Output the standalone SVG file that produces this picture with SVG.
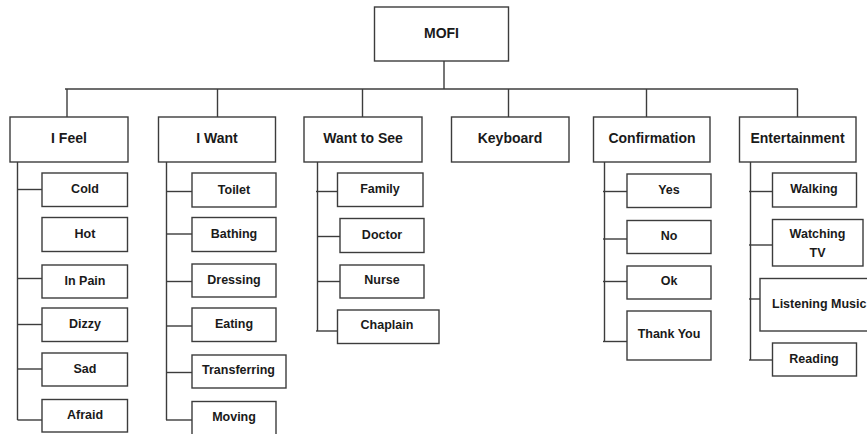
<svg xmlns="http://www.w3.org/2000/svg" width="867" height="434" viewBox="0 0 867 434">
<style>
rect{fill:#fff;stroke:#3c3c3c;stroke-width:1.4}
.c line{stroke:#3c3c3c;stroke-width:1.4}
text{font-family:"Liberation Sans",Arial,sans-serif;font-weight:bold;fill:#1a1a1a;text-anchor:middle}
.h{font-size:14px}
.s{font-size:12.5px}
</style>
<rect x="0" y="0" width="867" height="434" style="stroke:none"/>
<g class="c" id="connectors">
<line x1="444" y1="61" x2="444" y2="89"/>
<line x1="65" y1="89" x2="798" y2="89"/>
<line x1="67" y1="89" x2="67" y2="117"/>
<line x1="217.5" y1="89" x2="217.5" y2="117"/>
<line x1="362.5" y1="89" x2="362.5" y2="117"/>
<line x1="508.5" y1="89" x2="508.5" y2="117"/>
<line x1="646.5" y1="89" x2="646.5" y2="117"/>
<line x1="797.5" y1="89" x2="797.5" y2="117"/>
<line x1="17.5" y1="162" x2="17.5" y2="420"/>
<line x1="17.5" y1="189.5" x2="42" y2="189.5"/>
<line x1="17.5" y1="278.5" x2="42" y2="278.5"/>
<line x1="17.5" y1="324.5" x2="42" y2="324.5"/>
<line x1="17.5" y1="369" x2="42" y2="369"/>
<line x1="17.5" y1="420" x2="42" y2="420"/>
<line x1="166.5" y1="162" x2="166.5" y2="420"/>
<line x1="166" y1="191.5" x2="192" y2="191.5"/>
<line x1="166" y1="234" x2="192" y2="234"/>
<line x1="166" y1="281.5" x2="192" y2="281.5"/>
<line x1="166" y1="326" x2="192" y2="326"/>
<line x1="166" y1="372.5" x2="192" y2="372.5"/>
<line x1="166" y1="420" x2="192" y2="420"/>
<line x1="317.5" y1="162" x2="317.5" y2="331"/>
<line x1="316" y1="191.5" x2="337" y2="191.5"/>
<line x1="317" y1="236.5" x2="340" y2="236.5"/>
<line x1="317" y1="281.5" x2="340" y2="281.5"/>
<line x1="316" y1="331" x2="337" y2="331"/>
<line x1="604.5" y1="162" x2="604.5" y2="341.5"/>
<line x1="603" y1="191.5" x2="627" y2="191.5"/>
<line x1="603" y1="239" x2="627" y2="239"/>
<line x1="603" y1="281.5" x2="627" y2="281.5"/>
<line x1="603" y1="341.5" x2="627" y2="341.5"/>
<line x1="750.5" y1="162" x2="750.5" y2="360"/>
<line x1="749" y1="191.5" x2="772" y2="191.5"/>
<line x1="749" y1="245" x2="772" y2="245"/>
<line x1="749" y1="299" x2="760" y2="299"/>
<line x1="749" y1="360" x2="772" y2="360"/>
</g>
<g id="mofi"><rect x="374.5" y="7" width="134" height="54"/><text class="h" x="441.5" y="37.5">MOFI</text></g>
<g id="ifeel"><rect x="10" y="117" width="118" height="45"/><text class="h" x="69" y="143">I Feel</text></g>
<g id="iwant"><rect x="158.5" y="117" width="117" height="45"/><text class="h" x="217" y="143">I Want</text></g>
<g id="wanttosee"><rect x="304" y="117" width="118" height="45"/><text class="h" x="363" y="143">Want to See</text></g>
<g id="keyboard"><rect x="451.5" y="117" width="117.5" height="45"/><text class="h" x="510" y="143">Keyboard</text></g>
<g id="confirmation"><rect x="593.5" y="117" width="116.5" height="45"/><text class="h" x="652" y="143">Confirmation</text></g>
<g id="entertainment"><rect x="739.5" y="117" width="116.5" height="45"/><text class="h" x="797.5" y="143">Entertainment</text></g>

<g id="cold"><rect x="42" y="173" width="85.5" height="33.5"/><text class="s" x="85" y="193">Cold</text></g>
<g id="hot"><rect x="42" y="217.5" width="85.5" height="34"/><text class="s" x="85" y="237.5">Hot</text></g>
<g id="inpain"><rect x="42" y="265" width="85.5" height="33"/><text class="s" x="85" y="284.5">In Pain</text></g>
<g id="dizzy"><rect x="42" y="308" width="85.5" height="33.5"/><text class="s" x="85" y="328">Dizzy</text></g>
<g id="sad"><rect x="42" y="353" width="85.5" height="33"/><text class="s" x="85" y="372.5">Sad</text></g>
<g id="afraid"><rect x="42" y="399.5" width="85.5" height="32.5"/><text class="s" x="85" y="418.5">Afraid</text></g>

<g id="toilet"><rect x="192" y="173" width="84" height="34"/><text class="s" x="234" y="193.5">Toilet</text></g>
<g id="bathing"><rect x="192" y="217.5" width="84" height="34"/><text class="s" x="234" y="237.5">Bathing</text></g>
<g id="dressing"><rect x="192" y="264" width="84" height="33"/><text class="s" x="234" y="283.5">Dressing</text></g>
<g id="eating"><rect x="192" y="308" width="84" height="33.5"/><text class="s" x="234" y="328">Eating</text></g>
<g id="transferring"><rect x="192" y="355" width="94" height="33"/><text class="s" x="238.5" y="374">Transferring</text></g>
<g id="moving"><rect x="192" y="401.5" width="84" height="40"/><text class="s" x="234" y="421">Moving</text></g>

<g id="family"><rect x="337.5" y="173" width="85.5" height="33.5"/><text class="s" x="380" y="192.5">Family</text></g>
<g id="doctor"><rect x="340" y="218.5" width="84" height="34"/><text class="s" x="382" y="238.5">Doctor</text></g>
<g id="nurse"><rect x="340" y="265" width="84" height="33"/><text class="s" x="382" y="283.5">Nurse</text></g>
<g id="chaplain"><rect x="337.5" y="310" width="101.5" height="33.5"/><text class="s" x="387" y="328.5">Chaplain</text></g>

<g id="yes"><rect x="627" y="174" width="84" height="33.5"/><text class="s" x="669" y="193.5">Yes</text></g>
<g id="no"><rect x="627" y="220.5" width="84" height="33"/><text class="s" x="669" y="240">No</text></g>
<g id="ok"><rect x="627" y="266" width="84" height="33"/><text class="s" x="669" y="284.5">Ok</text></g>
<g id="thankyou"><rect x="627" y="311" width="84" height="49"/><text class="s" x="669" y="337.5">Thank You</text></g>

<g id="walking"><rect x="772.5" y="173" width="84" height="34"/><text class="s" x="814" y="193">Walking</text></g>
<g id="watchingtv"><rect x="772.5" y="219.5" width="90.5" height="46.5"/><text class="s" x="817.5" y="237.5">Watching</text><text class="s" x="817.5" y="256.5">TV</text></g>
<g id="listeningmusic"><rect x="760" y="278.5" width="120" height="52.5"/><text class="s" x="772" y="308" style="text-anchor:start">Listening Music</text></g>
<g id="reading"><rect x="772.5" y="343" width="84" height="33"/><text class="s" x="814" y="363">Reading</text></g>
</svg>
